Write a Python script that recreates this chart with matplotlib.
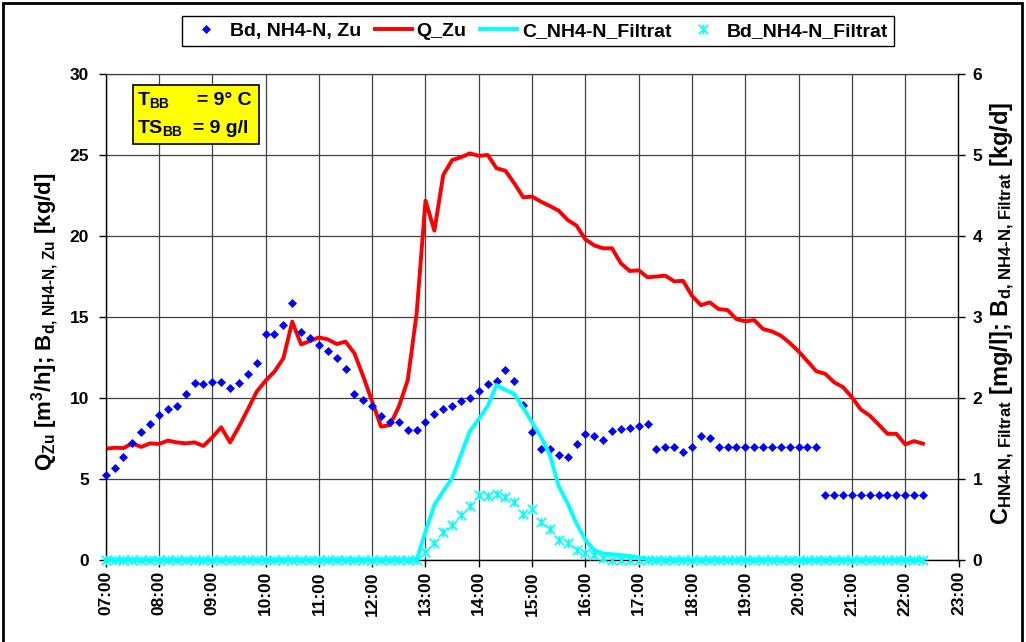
import numpy as np
import matplotlib
matplotlib.use("Agg")
import matplotlib.pyplot as plt
from matplotlib.path import Path
from matplotlib.patches import Rectangle

plt.rcParams['font.family'] = ['Liberation Sans', 'DejaVu Sans']
plt.rcParams['font.weight'] = 'bold'
plt.rcParams['mathtext.fontset'] = 'custom'
for k in ('rm', 'it', 'bf', 'sf'):
    plt.rcParams['mathtext.' + k] = 'Liberation Sans:bold'

# ---------------- data (10-minute samples from 07:00 to 22:20) ----------------
start_hour = 7
step_minutes = 10
hour_ticks = list(range(7, 24))
hour_labels = [f"{h:02d}:00" for h in hour_ticks]

# B_d,NH4-N,Zu [kg/d] (left axis)
bd_zu = [5.25, 5.66, 6.38, 7.2, 7.88, 8.37,
         8.97, 9.34, 9.5, 10.25, 10.95, 10.84,
         10.99, 10.99, 10.64, 10.95, 11.5, 12.14,
         13.97, 13.97, 14.49, 15.84, 14.1, 13.7,
         13.27, 12.9, 12.5, 11.8, 10.25, 9.86,
         9.5, 8.89, 8.52, 8.52, 8.0, 8.0,
         8.52, 9.01, 9.32, 9.5, 9.84, 10.0,
         10.43, 10.87, 11.03, 11.71, 11.03, 9.55,
         7.9, 6.85, 6.85, 6.5, 6.33, 7.15,
         7.75, 7.63, 7.42, 7.98, 8.1, 8.14,
         8.29, 8.41, 6.85, 7.0, 6.95, 6.65,
         7.0, 7.65, 7.55, 7.0, 7.0, 7.0,
         7.0, 7.0, 7.0, 7.0, 7.0, 7.0,
         7.0, 7.0, 7.0, 4.0, 4.0, 4.0,
         4.0, 4.0, 4.0, 4.0, 4.0, 4.0,
         4.0, 4.0, 4.0]

# Q_Zu [m3/h] (left axis)
q_zu = [6.87, 6.93, 6.91, 7.2, 6.98, 7.2,
        7.16, 7.37, 7.26, 7.2, 7.26, 7.04,
        7.57, 8.19, 7.26, 8.23, 9.3, 10.39,
        11.07, 11.63, 12.45, 14.71, 13.31, 13.52,
        13.74, 13.62, 13.33, 13.48, 12.76, 11.32,
        9.77, 8.23, 8.33, 9.47, 11.1, 15.2,
        22.18, 20.33, 23.77, 24.69, 24.86, 25.1,
        24.95, 25.0, 24.18, 24.03, 23.25, 22.39,
        22.43, 22.12, 21.85, 21.56, 20.99, 20.64,
        19.79, 19.42, 19.24, 19.24, 18.31, 17.84,
        17.88, 17.45, 17.5, 17.55, 17.2, 17.23,
        16.31, 15.73, 15.9, 15.49, 15.43, 14.87,
        14.73, 14.81, 14.26, 14.11, 13.85, 13.4,
        12.88, 12.27, 11.65, 11.49, 10.97, 10.67,
        10.05, 9.29, 8.92, 8.37, 7.79, 7.79,
        7.14, 7.34, 7.18]

# C_NH4-N,Filtrat [mg/l] (right axis)
c_filtrat = [0.0] * 36 + [
    0.35, 0.68, 0.85, 1.01, 1.3, 1.59,
    1.74, 1.9, 2.16, 2.1, 2.05, 1.88,
    1.7, 1.52, 1.3, 0.91, 0.7, 0.45,
    0.25, 0.12, 0.08, 0.07, 0.06, 0.05,
    0.03, 0.01] + [0.0] * 31

# B_d,NH4-N,Filtrat [kg/d] (right axis)
bd_filtrat = [0.0] * 36 + [
    0.10, 0.21, 0.34, 0.43, 0.56, 0.67,
    0.80, 0.79, 0.82, 0.78, 0.72, 0.57,
    0.63, 0.47, 0.38, 0.25, 0.21, 0.12,
    0.09, 0.06, 0.02] + [0.0] * 36

n = len(q_zu)
t = start_hour + np.arange(n) * step_minutes / 60.0

# ---------------- figure ----------------
W, H = 1026, 642
fig = plt.figure(figsize=(W / 100, H / 100), dpi=100)
fig.patch.set_facecolor('white')

ax = fig.add_axes([105.7 / W, 1 - 560 / H, 852.8 / W, 486 / H])
ax2 = ax.twinx()

asterisk = Path([(0, -1), (0, 1), (-1, -1), (1, 1), (-1, 1), (1, -1)],
                [Path.MOVETO, Path.LINETO] * 3)

h1, = ax.plot(t, bd_zu, ls='none', marker='D', ms=4.3, mew=0.5,
              color='#0000FF', label='Bd, NH4-N, Zu', zorder=3, clip_on=False)
h2, = ax.plot(t, q_zu, color='#FF0000', lw=2.8, label='Q_Zu', zorder=2)
h3, = ax2.plot(t, c_filtrat, color='#00FFFF', lw=2.8,
               label='C_NH4-N_Filtrat', clip_on=False, zorder=2)
h4, = ax2.plot(t, bd_filtrat, ls='none', marker=asterisk, ms=6.8, mew=1.2,
               mfc='none', color='#00FFFF', label='Bd_NH4-N_Filtrat',
               clip_on=False, zorder=3)

ax.set_xlim(7, 23)
ax.set_ylim(0, 30)
ax2.set_ylim(0, 6)
ax.set_xticks(hour_ticks)
ax.set_xticklabels(hour_labels)
ax.set_yticks(range(0, 31, 5))
ax2.set_yticks(range(0, 7))

ax.grid(True, color='#404040', lw=0.9)
ax.set_axisbelow(True)

for s in ('left', 'bottom'):
    ax.spines[s].set_color('black')
    ax.spines[s].set_linewidth(1.0)
ax.spines['top'].set_color('#404040')
ax.spines['top'].set_linewidth(0.9)
ax.spines['right'].set_visible(False)
for s in ('left', 'bottom', 'top'):
    ax2.spines[s].set_visible(False)
ax2.spines['right'].set_color('black')
ax2.spines['right'].set_linewidth(1.0)

ax.tick_params(axis='y', direction='out', length=5, width=1, pad=7, labelsize=12.5)
ax.tick_params(axis='x', direction='out', length=5, width=1, pad=3,
               labelsize=12.5, labelrotation=90)
ax2.tick_params(axis='y', direction='out', length=5, width=1, pad=5, labelsize=12.5)

# axis titles
fig.text(45 / W, 1 - 322 / H,
         r'Q$_{\text{Zu}}$ [m$^{\text{3}}$/h]; B$_{\text{d, NH4-N, Zu}}$ [kg/d]',
         rotation=90, ha='center', va='center', fontsize=16)
fig.text(1003 / W, 1 - 313 / H,
         r'C$_{\text{HN4-N, Filtrat}}$ [mg/l]; B$_{\text{d, NH4-N, Filtrat}}$ [kg/d]',
         rotation=90, ha='center', va='center', fontsize=17)

# info box
fig.patches.append(Rectangle((133 / W, 1 - 144 / H), 126 / W, 59 / H,
                             transform=fig.transFigure, facecolor='#FFFF00',
                             edgecolor='black', lw=1.2, zorder=5))
fig.text(137 / W, 1 - 105 / H, r'T$_{\text{BB}}$', fontsize=14, va='baseline', zorder=6)
fig.text(197 / W, 1 - 105 / H, '= 9° C', fontsize=14, va='baseline', zorder=6)
fig.text(137 / W, 1 - 133 / H, r'TS$_{\text{BB}}$', fontsize=14, va='baseline', zorder=6)
fig.text(193 / W, 1 - 133 / H, '= 9 g/l', fontsize=14, va='baseline', zorder=6)

# legend
leg = fig.legend([h1, h2, h3, h4],
                 ['Bd, NH4-N, Zu', 'Q_Zu', 'C_NH4-N_Filtrat', 'Bd_NH4-N_Filtrat'],
                 loc='center', bbox_to_anchor=(538 / W, 1 - 31 / H), ncol=4,
                 fontsize=14, frameon=True, fancybox=False, edgecolor='black',
                 framealpha=1, borderpad=0.3, handlelength=1.9,
                 handletextpad=0.25, columnspacing=0.7, borderaxespad=0,
                 numpoints=1)
leg.get_frame().set_linewidth(1.0)

# figure border
fig.patches.append(Rectangle((3 / W, -0.02), 1019 / W, 1 - 3 / H + 0.02,
                             transform=fig.transFigure, fill=False,
                             edgecolor='black', lw=2, zorder=10))

fig.savefig('out.png', dpi=100)
